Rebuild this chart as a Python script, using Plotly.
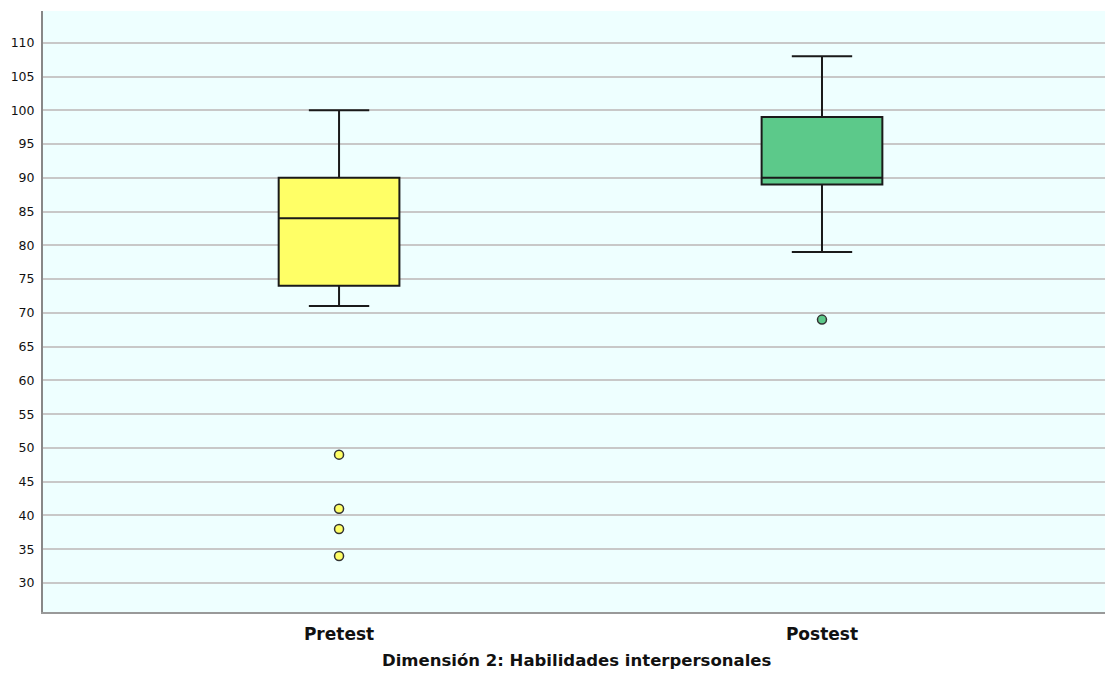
import plotly.graph_objects as go

categories = ["Pretest", "Postest"]
q1 = [74, 89]
median = [84, 90]
q3 = [90, 99]
lower_fence = [71, 79]
upper_fence = [100, 108]
outliers = [[49, 41, 38, 34], [69]]
colors = ["#FFFF66", "#5CC98A"]
y_ticks = list(range(30, 111, 5))
title_text = "Dimensión 2: Habilidades interpersonales"

FONT = "DejaVu Sans, Arial, sans-serif"

fig = go.Figure()
for i, cat in enumerate(categories):
    fig.add_trace(go.Box(
        x=[i], q1=[q1[i]], median=[median[i]], q3=[q3[i]],
        lowerfence=[lower_fence[i]], upperfence=[upper_fence[i]],
        width=0.25, whiskerwidth=0.5, fillcolor=colors[i],
        line=dict(color="#1a1a1a", width=2),
        boxpoints=False, showlegend=False, name=cat, hoverinfo="skip",
    ))
    fig.add_trace(go.Scatter(
        x=[i] * len(outliers[i]), y=outliers[i], mode="markers",
        marker=dict(size=9, color=colors[i], line=dict(color="#333333", width=1.5)),
        showlegend=False, hoverinfo="skip",
    ))

fig.update_layout(
    width=1105, height=678,
    margin=dict(l=43, r=0, t=11, b=66),
    paper_bgcolor="white", plot_bgcolor="#EEFFFF",
    font=dict(family=FONT, color="#111111"),
    annotations=[dict(
        text="<b>" + title_text + "</b>", x=0.502, y=-0.08, xref="paper", yref="paper",
        xanchor="center", yanchor="middle", showarrow=False,
        font=dict(size=16.5, family=FONT, color="#111111"),
    )],
)
fig.update_xaxes(
    range=[-0.613, 1.586], tickvals=[0, 1],
    ticktext=["<b>" + c + "</b>" for c in categories],
    tickfont=dict(size=17, family=FONT), showgrid=False, zeroline=False,
    showline=True, linecolor="#999999", linewidth=2, ticks="", ticklabelstandoff=6,
)
fig.update_yaxes(
    range=[25.7, 114.7], tickvals=y_ticks, tickfont=dict(size=12.5, family=FONT),
    showgrid=True, gridcolor="#C8C8C8", gridwidth=1.5, zeroline=False,
    showline=True, linecolor="#888888", linewidth=2, ticks="", ticklabelstandoff=4,
)
fig.write_html(
    "out.html",
    config={"displayModeBar": False},
    post_script="document.body.style.margin='0';document.body.style.overflow='hidden';",
)
